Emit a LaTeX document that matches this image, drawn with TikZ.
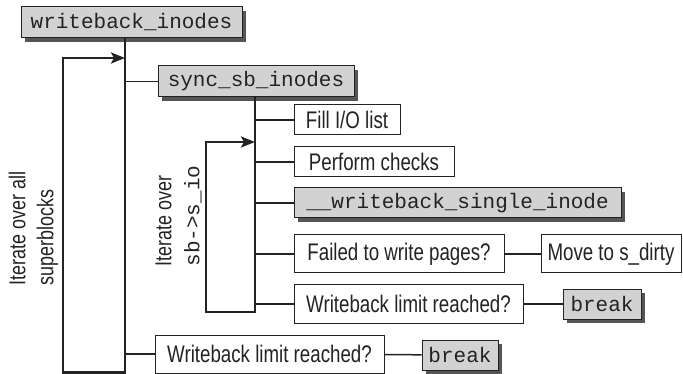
\documentclass[tikz,border=0pt]{standalone}
\usepackage{fontspec}
\setmainfont[FakeStretch=0.78]{Liberation Sans}
\setmonofont{Liberation Mono}
\usetikzlibrary{arrows.meta, shadows}
\definecolor{boxgray}{RGB}{210,210,210}
\definecolor{shadowgray}{RGB}{85,85,85}
\definecolor{inkblack}{RGB}{35,35,35}
\tikzset{
    % White boxes for the single steps
    stepbox/.style={rectangle, draw=inkblack, line width=1pt, fill=white, inner sep=0pt,
        font=\fontsize{24}{26}\selectfont, text=inkblack},
    % Grey boxes for function names
    codebox/.style={rectangle, draw=inkblack, line width=1pt, fill=boxgray, inner sep=0pt,
        font=\ttfamily\fontsize{21}{24}\selectfont, text=inkblack,
        drop shadow={shadow xshift=4pt, shadow yshift=-4pt, fill=shadowgray, opacity=1}},
    % Line styles
    branchline/.style={draw=inkblack, line width=1.5pt},
    trunkline/.style={draw=inkblack, line width=2pt},
    loopline/.style={draw=inkblack, line width=2.5pt, line cap=rect,
        -{Stealth[length=14pt, width=11pt, inset=3pt]}},
    looplabel/.style={rotate=90, align=left, inner sep=0pt,
        font=\fontsize{23}{28}\selectfont, text=inkblack},
}

\begin{document}
\begin{tikzpicture}[x=1pt, y=-1pt]

\clip (0,0) rectangle (683,374);

% ============================================================
% Function boxes
% ============================================================
\node[codebox, minimum width=221pt, minimum height=31pt] (wbinodes) at (131.5,22.5) {writeback\_inodes};
\node[codebox, minimum width=196pt, minimum height=31pt] (syncsb) at (256,81.5) {sync\_sb\_inodes};

% Steps per inode
\node[stepbox, minimum width=106pt, minimum height=30pt] (fill) at (347,120) {Fill I/O list};
\node[stepbox, minimum width=160pt, minimum height=30pt] (checks) at (374,162) {Perform checks};
\node[codebox, minimum width=327pt, minimum height=30pt] (single) at (457.5,203) {\_\_writeback\_single\_inode};
\node[stepbox, minimum width=210pt, minimum height=38pt] (failed) at (399,254) {Failed to write pages?};
\node[stepbox, minimum width=140pt, minimum height=38pt] (dirty) at (611,254) {Move to s\_dirty};
\node[stepbox, minimum width=229pt, minimum height=38pt] (limitin) at (408.5,304) {Writeback limit reached?};
\node[codebox, minimum width=78pt, minimum height=30pt] (breakin) at (602,304) {break};

% Check per superblock
\node[stepbox, minimum width=229pt, minimum height=38pt] (limitout) at (269.5,354) {Writeback limit reached?};
\node[codebox, minimum width=76pt, minimum height=30pt] (breakout) at (460,355) {break};

% ============================================================
% Outer loop: all superblocks
% ============================================================
\coordinate (outerx) at (125,0);
\coordinate (outerbot) at (125,372.5);
\coordinate (outertop) at (125,58);

\draw[trunkline] (wbinodes.south -| outerx) -- (outerbot);
\draw[branchline] (outerx |- syncsb.west) -- (syncsb.west);
\draw[branchline] (outerx |- limitout.west) -- (limitout.west);
\draw[loopline] (outerbot) -- ++(-62,0) |- (outertop);
\draw[branchline] (limitout) -- (breakout);

\node[looplabel] (outerlabel) at (33.5,228.5) {Iterate over all\\superblocks};

% ============================================================
% Inner loop: sb->s_io
% ============================================================
\coordinate (innerx) at (255,0);
\coordinate (innerbot) at (255,312);
\coordinate (innertop) at (255,142);

\draw[trunkline] (syncsb.south -| innerx) -- (innerbot);
\draw[branchline] (innerx |- fill.west) -- (fill.west);
\draw[branchline] (innerx |- checks.west) -- (checks.west);
\draw[branchline] (innerx |- single.west) -- (single.west);
\draw[branchline] (innerx |- failed.west) -- (failed.west);
\draw[branchline] (innerx |- limitin.west) -- (limitin.west);
\draw[loopline] (innerbot) -- ++(-49,0) |- (innertop);
\draw[branchline] (failed) -- (dirty);
\draw[branchline] (limitin) -- (breakin);

\node[looplabel] (innerlabel) at (178.5,216) {Iterate over\\{\ttfamily\fontsize{21}{28}\selectfont sb->s\_io}};

\end{tikzpicture}
\end{document}
